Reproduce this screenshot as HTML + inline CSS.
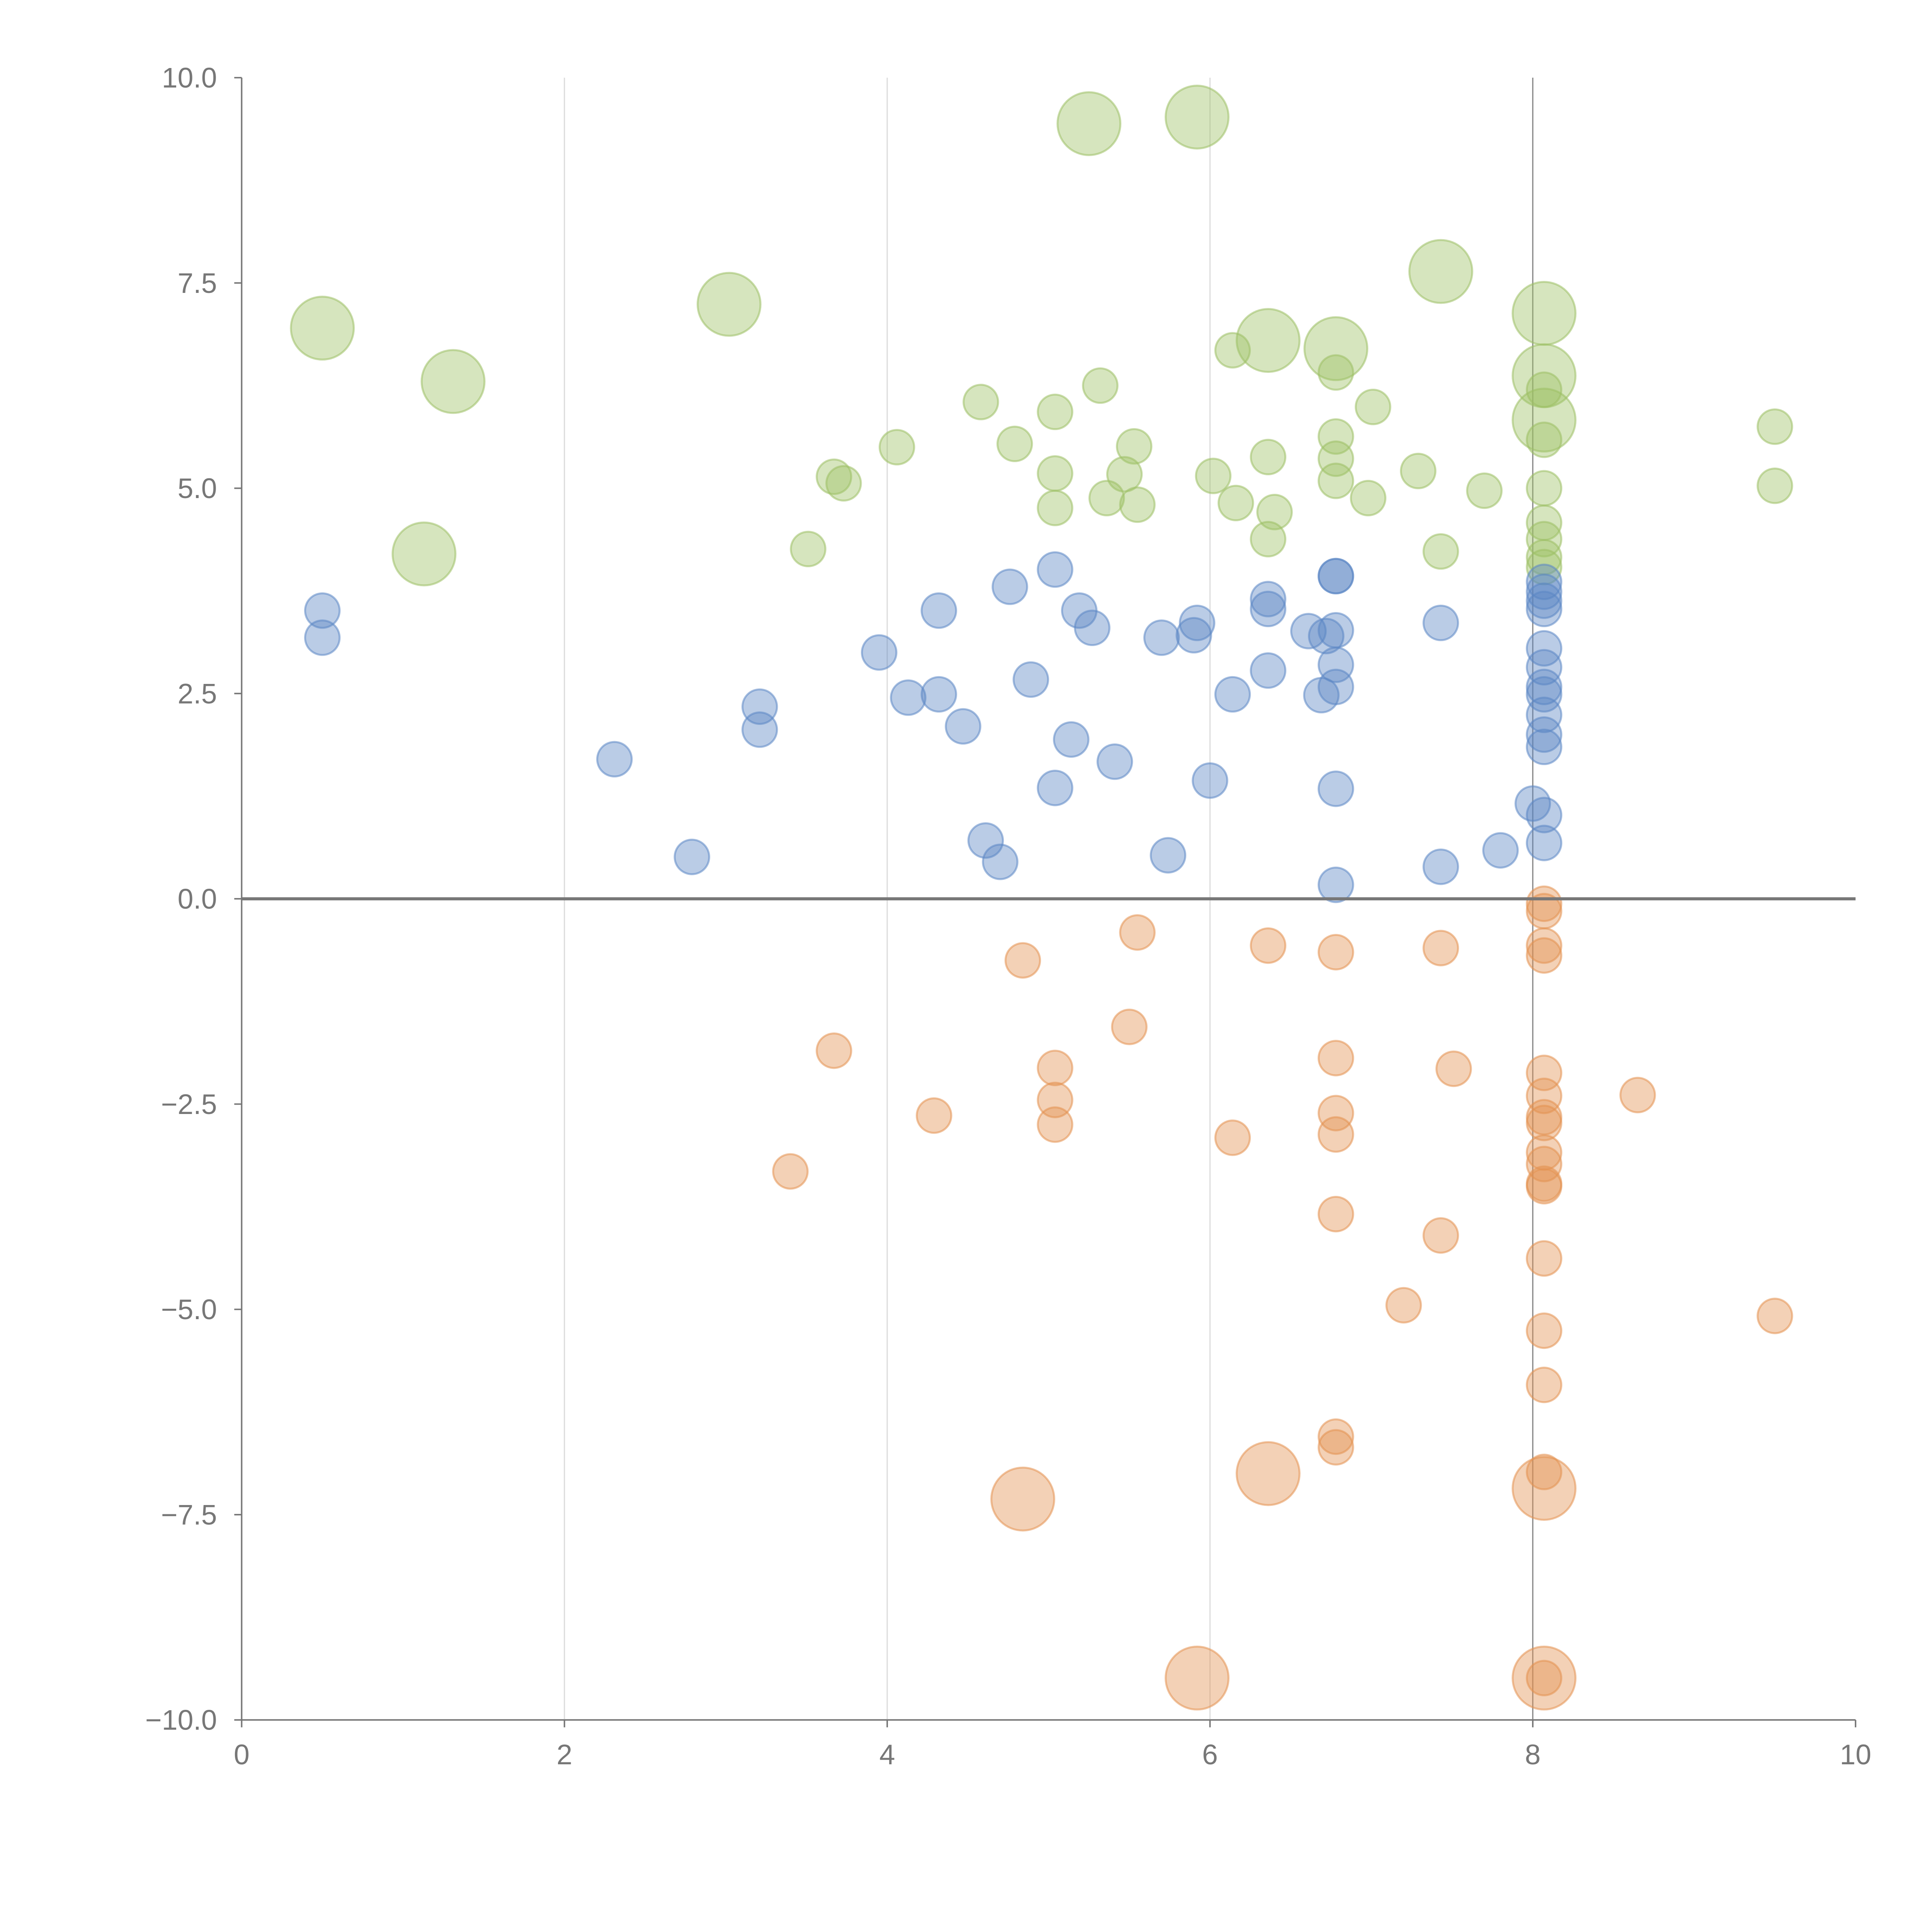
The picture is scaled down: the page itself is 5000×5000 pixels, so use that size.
<!DOCTYPE html>
<html><head><meta charset="utf-8"><style>
html,body{margin:0;padding:0;background:#fff;width:5000px;height:5000px;overflow:hidden}
svg{display:block}
text{font-family:"Liberation Sans",sans-serif;fill:#777}
</style></head><body>
<svg id="chart" width="5000" height="5000" viewBox="0 0 1567 1567" xmlns="http://www.w3.org/2000/svg">
<g id="grid"></g>
<g id="marks"></g>
<g id="axes"></g>
</svg>
<script>
const xTicks=[0,2,4,6,8,10];
const yTicks=[10,7.5,5,2.5,0,-2.5,-5,-7.5,-10];
const greenX=[0.5,1.31,1.13,3.02,5.25,5.92,7.43,8.07,6.36,6.78,8.07,8.07,6.14,6.78,5.32,4.58,5.04,7.01,8.07,9.5,4.06,4.79,5.53,6.78,8.07,6.36,6.78,3.67,3.73,5.04,5.47,6.02,7.29,6.78,7.7,8.07,9.5,6.98,5.36,5.55,6.16,6.4,5.04,8.07,6.36,8.07,3.51,7.43,8.07,8.07];
const greenY=[6.95,6.3,4.2,7.24,9.44,9.52,7.64,7.13,6.8,6.7,6.37,5.83,6.68,6.41,6.25,6.05,5.93,5.99,6.2,5.75,5.5,5.54,5.51,5.63,5.59,5.38,5.36,5.14,5.06,5.18,5.17,5.15,5.21,5.09,4.97,5.0,5.03,4.88,4.88,4.8,4.82,4.71,4.76,4.58,4.38,4.38,4.26,4.23,4.16,4.04];
const greenBig=[1,1,1,1,1,1,1,1,1,1,1,1,0,0,0,0,0,0,0,0,0,0,0,0,0,0,0,0,0,0,0,0,0,0,0,0,0,0,0,0,0,0,0,0,0,0,0,0,0,0];
const blueX=[0.5,0.5,2.31,2.79,3.21,3.21,3.95,4.13,4.32,4.32,4.47,4.61,4.7,4.76,4.89,5.04,5.04,5.14,5.19,5.27,5.41,5.7,5.74,5.92,5.9,6.0,6.14,6.36,6.36,6.36,6.61,6.72,6.69,6.78,6.78,6.78,6.78,6.78,6.78,6.78,7.43,7.43,7.8,8.0,8.07,8.07,8.07,8.07,8.07,8.07,8.07,8.07,8.07,8.07,8.07,8.07,8.07];
const blueY=[3.51,3.18,1.7,0.51,2.34,2.06,3.0,2.45,3.51,2.49,2.1,0.71,0.45,3.8,2.67,4.01,1.35,1.94,3.51,3.3,1.67,3.18,0.53,3.36,3.21,1.44,2.49,3.65,3.53,2.78,3.26,3.2,2.48,3.93,3.93,3.27,2.85,2.58,1.34,0.17,3.36,0.39,0.59,1.16,1.02,0.68,3.86,3.74,3.63,3.53,3.05,2.82,2.58,2.49,2.24,2.0,1.85];
const orangeX=[3.4,3.67,4.29,4.84,5.04,5.04,5.04,5.5,5.55,6.14,6.36,6.78,6.78,6.78,6.78,6.78,6.78,6.78,7.2,7.43,7.43,7.51,8.65,9.5,8.07,8.07,8.07,8.07,8.07,8.07,8.07,8.07,8.07,8.07,8.07,8.07,8.07,8.07,8.07,8.07,4.84,6.36,8.07,5.92,8.07,8.07];
const orangeY=[-3.32,-1.85,-2.64,-0.75,-2.06,-2.45,-2.75,-1.56,-0.41,-2.91,-0.57,-0.65,-1.94,-2.61,-2.87,-3.84,-6.55,-6.68,-4.95,-0.6,-4.1,-2.07,-2.39,-5.08,-0.06,-0.15,-0.57,-0.69,-2.12,-2.4,-2.66,-2.73,-3.09,-3.23,-3.47,-3.5,-4.38,-5.26,-5.92,-6.98,-7.31,-7.0,-7.18,-9.49,-9.49,-9.49];
const orangeBig=[0,0,0,0,0,0,0,0,0,0,0,0,0,0,0,0,0,0,0,0,0,0,0,0,0,0,0,0,0,0,0,0,0,0,0,0,0,0,0,0,1,1,1,1,1,0];

const X0=196,X1=1505,Y0=1395,Y1=63;
const sx=v=>X0+(v-0)/(10-0)*(X1-X0);
const sy=v=>Y0-(v+10)/20*(Y0-Y1);
const NS="http://www.w3.org/2000/svg";
function mk(t,a,p){const e=document.createElementNS(NS,t);for(const k in a)e.setAttribute(k,a[k]);p.appendChild(e);return e;}
const grid=document.getElementById('grid'),marks=document.getElementById('marks'),axes=document.getElementById('axes');
xTicks.forEach(t=>{if(t>0&&t<10){const l=mk('line',{x1:sx(t),x2:sx(t),y1:Y1,y2:Y0,stroke:t==8?'#888':'#ddd','stroke-width':1},grid);

}});
function series(xs,ys,big,col,name){xs.forEach((x,i)=>{const c=mk('circle',{cx:sx(x),cy:sy(ys[i]),r:big[i]?25.5:14,fill:col,'fill-opacity':0.42,stroke:col,'stroke-opacity':0.55,'stroke-width':1.6},marks);

});}
series(greenX,greenY,greenBig,'#9dc064','green');
series(blueX,blueY,blueX.map(()=>0),'#5b86c4','blue');
series(orangeX,orangeY,orangeBig,'#e39150','orange');
const zl=mk('line',{x1:X0,x2:X1,y1:sy(0),y2:sy(0),stroke:'#777','stroke-width':2.5},axes);


const ya=mk('line',{x1:X0,x2:X0,y1:Y1,y2:Y0,stroke:'#777','stroke-width':1.2},axes);


const xa=mk('line',{x1:X0,x2:X1,y1:Y0,y2:Y0,stroke:'#777','stroke-width':1.2},axes);


xTicks.forEach(t=>{mk('line',{x1:sx(t),x2:sx(t),y1:Y0,y2:Y0+6,stroke:'#777','stroke-width':1.2},axes);
const tx=mk('text',{x:sx(t),y:Y0+36,'text-anchor':'middle','font-size':23},axes);tx.textContent=t;

});
yTicks.forEach(t=>{mk('line',{x1:X0-6,x2:X0,y1:sy(t),y2:sy(t),stroke:'#777','stroke-width':1.2},axes);
const tx=mk('text',{x:X0-20,y:sy(t)+8,'text-anchor':'end','font-size':23},axes);tx.textContent=(t<0?'\u2212':'')+Math.abs(t).toFixed(1);

});
</script>
</body></html>
